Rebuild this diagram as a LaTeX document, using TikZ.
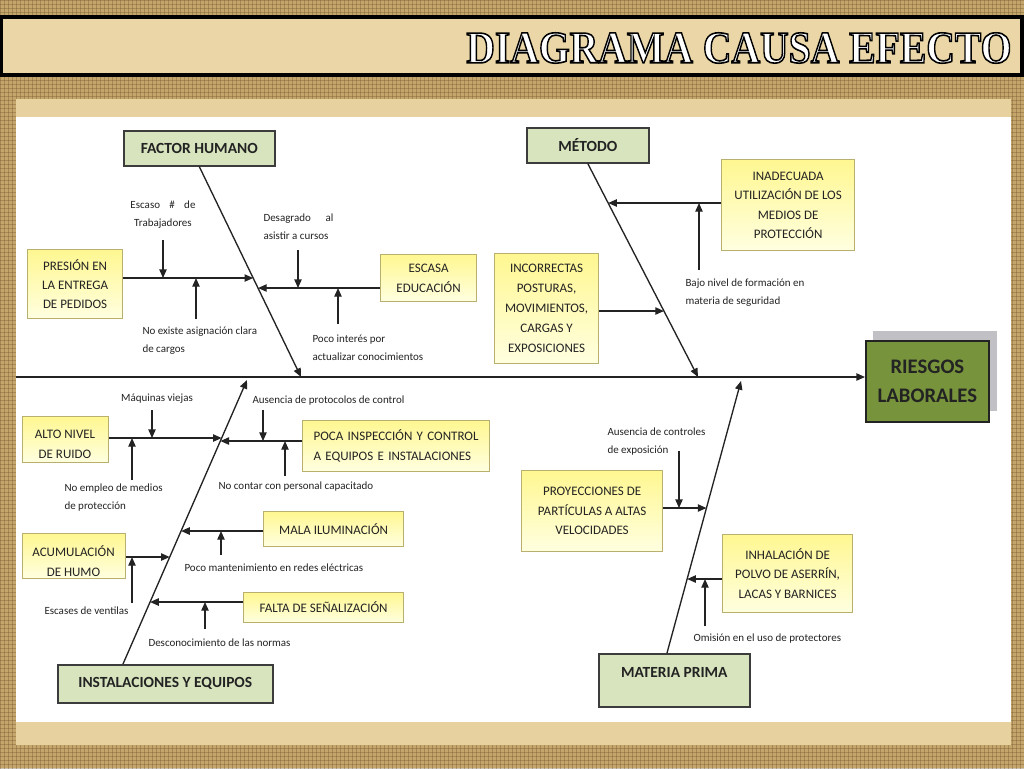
\documentclass[tikz,border=0pt]{standalone}
\usepackage{fontspec}
\setmainfont{Carlito}
\newfontfamily\titlefont{Liberation Serif}
\usetikzlibrary{arrows.meta,patterns}

\definecolor{burlap}{RGB}{196,166,108}
\definecolor{weave}{RGB}{110,82,40}
\definecolor{barfill}{RGB}{234,214,166}
\definecolor{framefill}{RGB}{231,209,158}
\definecolor{headfill}{RGB}{215,228,189}
\definecolor{headline}{RGB}{60,60,60}
\definecolor{causetop}{RGB}{255,247,145}
\definecolor{causebot}{RGB}{255,255,224}
\definecolor{causeline}{RGB}{185,175,110}
\definecolor{riesgofill}{RGB}{119,147,60}
\definecolor{shadowgray}{RGB}{192,192,197}
\definecolor{inkgray}{RGB}{35,35,35}

\newlength\pxu \setlength\pxu{0.75pt}
\newcommand\outlined[1]{\special{pdf:literal direct 2 Tr 1.2 w 0 0 0 RG}#1\special{pdf:literal direct 0 Tr}}

\tikzset{every picture/.style={line width=0.75pt}}
\tikzset{
  headbox/.style={draw=headline, line width=1.2pt, fill=headfill, text=inkgray, inner sep=0pt,
    font=\bfseries\fontsize{11.6}{14}\selectfont},
  causebox/.style={draw=causeline, line width=0.9pt, top color=causetop, bottom color=causebot,
    text=inkgray, align=center, inner sep=0pt, font=\fontsize{9.75}{14.6}\selectfont},
  causetext/.style={text=inkgray, align=center, inner sep=0pt, font=\fontsize{9.75}{14.8}\selectfont},
  note/.style={text=inkgray, align=left, inner sep=0pt, font=\fontsize{8.25}{13.5}\selectfont},
  link/.style={draw=inkgray, line width=1pt, -{Triangle[length=6.5pt,width=5.5pt]}},
}

\begin{document}
\begin{tikzpicture}[x=0.75pt,y=0.75pt,yscale=-1,xscale=1]
\useasboundingbox (0,0) rectangle (1024,768);

%Shape: Background
\fill[burlap] (0,0) rectangle (1024,768);
\fill[pattern=grid, pattern color=weave, opacity=0.35] (0,0) rectangle (1024,768);
%Shape: Title bar
\draw[line width=2.4pt, fill=barfill] (1,17) rectangle (1022,75);
\node[anchor=east, inner sep=0pt] (title) at (1012,48)
  {\scalebox{0.874}[1]{\titlefont\bfseries\fontsize{34}{34}\selectfont\color{white}\outlined{DIAGRAMA CAUSA EFECTO}}};
%Shape: Panel
\fill[framefill] (16,99) rectangle (1011,745);
\fill[white] (16,117) rectangle (1011,722);

%Shape: Effect
\fill[shadowgray] (873,331) rectangle (997,411);
\node[draw=inkgray, line width=1.3pt, fill=riesgofill, text=inkgray, align=center, inner sep=0pt,
  minimum width=123\pxu, minimum height=81\pxu, anchor=north west,
  font=\bfseries\fontsize{15.5}{21.75}\selectfont] (riesgo) at (865,340) {RIESGOS\\LABORALES};

%Shape: Heads
\node[headbox, minimum width=151\pxu, minimum height=35\pxu, anchor=north west] (fh) at (123,130) {FACTOR HUMANO};
\node[headbox, minimum width=122\pxu, minimum height=35\pxu, anchor=north west] (met) at (526,127) {MÉTODO};
\node[headbox, minimum width=215\pxu, minimum height=38\pxu, anchor=north west] (inst) at (57,664) {INSTALACIONES Y EQUIPOS};
\node[headbox, minimum width=151\pxu, minimum height=53\pxu, anchor=north west,
  text height=8.5pt, text depth=13pt] (mp) at (598,653) {MATERIA PRIMA};

%Shape: Causes
\node[causebox, minimum width=95\pxu, minimum height=69\pxu, anchor=north west] (presion) at (27,249) {PRESIÓN EN\\LA ENTREGA\\DE PEDIDOS};
\node[causebox, minimum width=96\pxu, minimum height=47\pxu, anchor=north west] (escasa) at (380,254) {ESCASA\\EDUCACIÓN};
\node[causebox, minimum width=133\pxu, minimum height=91\pxu, anchor=north west] (inad) at (721,159) {INADECUADA\\UTILIZACIÓN DE LOS\\MEDIOS DE\\PROTECCIÓN};
\node[causebox, minimum width=104\pxu, minimum height=110\pxu, anchor=north west, font=\fontsize{9.75}{15}\selectfont] (incorr) at (494,253) {INCORRECTAS\\POSTURAS,\\MOVIMIENTOS,\\CARGAS Y\\EXPOSICIONES};
\node[causebox, minimum width=86\pxu, minimum height=46\pxu, anchor=north west] (ruido) at (22,416) {};
\node[causebox, minimum width=187\pxu, minimum height=51\pxu, anchor=north west, align=left, text width=165\pxu] (poca) at (302,420) {POCA INSPECCIÓN Y CONTROL\\A EQUIPOS E INSTALACIONES};
\node[causebox, minimum width=140\pxu, minimum height=35\pxu, anchor=north west] (mala) at (263,511) {MALA ILUMINACIÓN};
\node[causebox, minimum width=103\pxu, minimum height=45\pxu, anchor=north west] (humo) at (22,533) {};
\node[causebox, minimum width=160\pxu, minimum height=30\pxu, anchor=north west] (falta) at (243,592) {FALTA DE SEÑALIZACIÓN};
\node[causebox, minimum width=141\pxu, minimum height=81\pxu, anchor=north west] (proy) at (521,470) {PROYECCIONES DE\\PARTÍCULAS A ALTAS\\VELOCIDADES};
\node[causebox, minimum width=130\pxu, minimum height=78\pxu, anchor=north west] (inhal) at (722,534) {INHALACIÓN DE\\POLVO DE ASERRÍN,\\LACAS Y BARNICES};

% clipped box texts
\begin{scope}
\clip (ruido.north west) rectangle ([yshift=5.25pt]ruido.south east);
\node[causetext] (ruidoTxt) at (65,444) {ALTO NIVEL\\DE RUIDO};
\end{scope}
\begin{scope}
\clip (humo.north west) rectangle ([yshift=5.25pt]humo.south east);
\node[causetext] (humoTxt) at (73.5,561) {ACUMULACIÓN\\DE HUMO};
\end{scope}

%Straight Lines: spine and bones
\coordinate (spineL) at (16,377);
\draw[link] (spineL) -- (spineL -| riesgo.west);
\coordinate (fhEnd) at (301,377);
\coordinate (metEnd) at (698,377);
\coordinate (instTop) at (123,664);
\coordinate (instEnd) at (247,380);
\coordinate (mpTop) at (667,653);
\coordinate (mpEnd) at (741,381);
\draw[link] (fh.south) -- (fhEnd);
\draw[link] (met.south) -- (metEnd);
\draw[link] (instTop) -- (instEnd);
\draw[link] (mpTop) -- (mpEnd);

% points on the bones
\coordinate (fh1) at (intersection of fh.south--fhEnd and 0,278--100,278);
\coordinate (fh2) at (intersection of fh.south--fhEnd and 0,288--100,288);
\coordinate (met1) at (intersection of met.south--metEnd and 0,203--100,203);
\coordinate (met2) at (intersection of met.south--metEnd and 0,311--100,311);
\coordinate (inst1) at (intersection of instTop--instEnd and 0,438--100,438);
\coordinate (inst2) at (intersection of instTop--instEnd and 0,441--100,441);
\coordinate (inst3) at (intersection of instTop--instEnd and 0,531--100,531);
\coordinate (inst4) at (intersection of instTop--instEnd and 0,557--100,557);
\coordinate (inst5) at (intersection of instTop--instEnd and 0,602--100,602);
\coordinate (mp1) at (intersection of mpTop--mpEnd and 0,508--100,508);
\coordinate (mp2) at (intersection of mpTop--mpEnd and 0,579--100,579);

%Straight Lines: causes to bones
\draw[link] (presion.east |- fh1) -- (fh1);
\draw[link] (escasa.west |- fh2) -- (fh2);
\draw[link] (inad.west |- met1) -- (met1);
\draw[link] (incorr.east |- met2) -- (met2);
\draw[link] (ruido.east |- inst1) -- (inst1);
\draw[link] (poca.west |- inst2) -- (inst2);
\draw[link] (mala.west |- inst3) -- (inst3);
\draw[link] (humo.east |- inst4) -- (inst4);
\draw[link] (falta.west |- inst5) -- (inst5);
\draw[link] (proy.east |- mp1) -- (mp1);
\draw[link] (inhal.west |- mp2) -- (mp2);

%Straight Lines: sub causes
\coordinate (trab) at (163,240);
\coordinate (asig) at (196,319);
\coordinate (desag) at (298,250);
\coordinate (inter) at (338,324);
\coordinate (bajo) at (699,270);
\coordinate (maq) at (152,410);
\coordinate (empleo) at (132,480);
\coordinate (protoc) at (263,410);
\coordinate (capac) at (285,476);
\coordinate (mant) at (221,555);
\coordinate (vent) at (132,603);
\coordinate (norm) at (205,629);
\coordinate (expo) at (679,451);
\coordinate (omis) at (705,626);
\draw[link] (trab) -- (trab |- fh1);
\draw[link] (asig) -- (asig |- fh1);
\draw[link] (desag) -- (desag |- fh2);
\draw[link] (inter) -- (inter |- fh2);
\draw[link] (bajo) -- (bajo |- met1);
\draw[link] (maq) -- (maq |- inst1);
\draw[link] (empleo) -- (empleo |- inst1);
\draw[link] (protoc) -- (protoc |- inst2);
\draw[link] (capac) -- (capac |- inst2);
\draw[link] (mant) -- (mant |- inst3);
\draw[link] (vent) -- (vent |- inst4);
\draw[link] (norm) -- (norm |- inst5);
\draw[link] (expo) -- (expo |- mp1);
\draw[link] (omis) -- (omis |- mp2);

% Text Node
\node[note, align=center] (trabTxt) at (163,214.5) {Escaso\hspace{7pt}\#\hspace{7pt}de\\Trabajadores};
% Text Node
\node[note, anchor=west] (asigTxt) at (142,341) {No existe asignación clara\\de cargos};
% Text Node
\node[note, anchor=west] (desagTxt) at (263,227) {Desagrado\hspace{11pt}al\\asistir a cursos};
% Text Node
\node[note, anchor=west] (interTxt) at (312,348) {Poco interés por\\actualizar conocimientos};
% Text Node
\node[note, anchor=west] (bajoTxt) at (685,293) {Bajo nivel de formación en\\materia de seguridad};
% Text Node
\node[note] (maqTxt) at (157,399) {Máquinas viejas};
% Text Node
\node[note, anchor=west] (empleoTxt) at (64,498) {No empleo de medios\\de protección};
% Text Node
\node[note, anchor=west] (protocTxt) at (252,401) {Ausencia de protocolos de control};
% Text Node
\node[note, anchor=west] (capacTxt) at (218,487) {No contar con personal capacitado};
% Text Node
\node[note, anchor=west] (mantTxt) at (184,568) {Poco mantenimiento en redes eléctricas};
% Text Node
\node[note, anchor=west] (ventTxt) at (44,611) {Escases de ventilas};
% Text Node
\node[note, anchor=west] (normTxt) at (148,643) {Desconocimiento de las normas};
% Text Node
\node[note, anchor=west] (expoTxt) at (607,442) {Ausencia de controles\\de exposición};
% Text Node
\node[note, anchor=west] (omisTxt) at (693,639) {Omisión en el uso de protectores};

\end{tikzpicture}
\end{document}
